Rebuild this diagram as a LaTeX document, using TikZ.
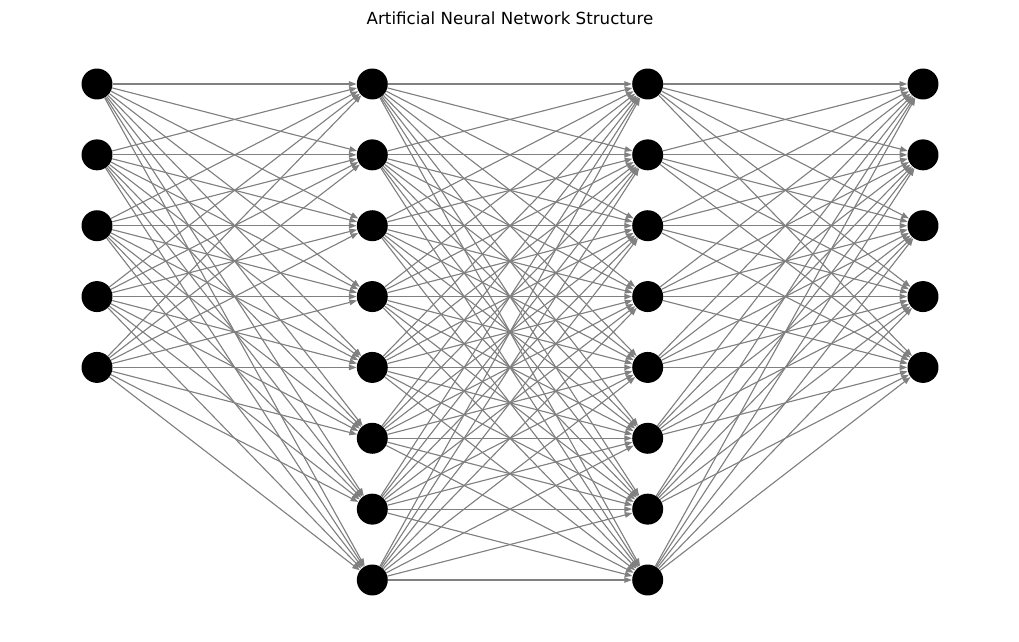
\documentclass[tikz,border=0pt]{standalone}
\usepackage{fontspec}
\setmainfont{DejaVu Sans}
\usetikzlibrary{arrows.meta}
\begin{document}
\begin{tikzpicture}[x=0.72pt,y=-0.72pt,>={Triangle[length=5.5pt,width=4pt]},
neuron/.style={circle,fill=black,inner sep=0pt,minimum size=22.3pt},
link/.style={->,draw=gray,fill=gray,line width=0.8pt}]
\useasboundingbox (0,0) rectangle (1019,642);
\node (title) at (510,18) {\fontsize{12}{14}\selectfont Artificial Neural Network Structure};
% layers
\foreach \i in {1,...,5} \node[neuron] (in\i) at (97,{84+70.857*(\i-1)}) {};
\foreach \i in {1,...,8} \node[neuron] (hA\i) at (372.3,{84+70.857*(\i-1)}) {};
\foreach \i in {1,...,8} \node[neuron] (hB\i) at (647.7,{84+70.857*(\i-1)}) {};
\foreach \i in {1,...,5} \node[neuron] (out\i) at (923,{84+70.857*(\i-1)}) {};
% connections
\foreach \i in {1,...,5} \foreach \j in {1,...,8} \draw[link](in\i)--(hA\j);
\foreach \i in {1,...,8} \foreach \j in {1,...,8} \draw[link](hA\i)--(hB\j);
\foreach \i in {1,...,8} \foreach \j in {1,...,5} \draw[link](hB\i)--(out\j);
\end{tikzpicture}
\end{document}
